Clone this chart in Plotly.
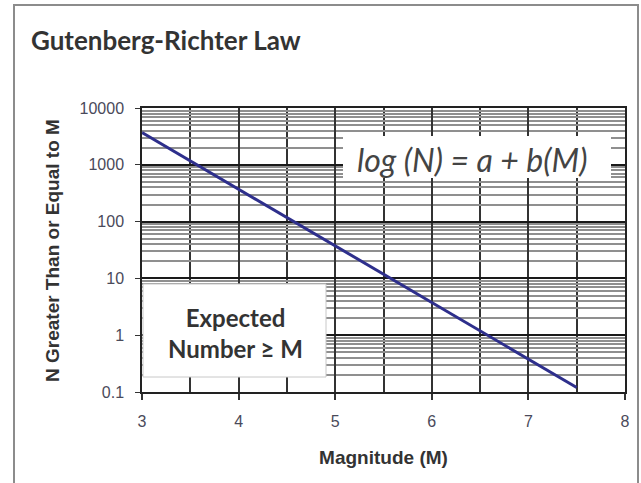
import plotly.graph_objects as go

magnitudes = [3.0, 4.0, 5.0, 6.0, 7.0, 7.5]
counts = [3700, 370, 37, 3.7, 0.37, 0.12]

y_tickvals = [0.1, 1, 10, 100, 1000, 10000]
y_ticktext = ["0.1", "1", "10", "100", "1000", "10000"]
x_tickvals = [3, 4, 5, 6, 7, 8]

W, H = 641, 483
L, R, T, B = 142, 16, 108, 91
pw, ph = W - L - R, H - T - B

def px(x):
    return (x - L) / pw

def py(y):
    return (H - B - y) / ph

fig = go.Figure()
fig.add_trace(go.Scatter(
    x=magnitudes, y=counts, mode="lines",
    line=dict(color="#2e2f8c", width=3), showlegend=False, hoverinfo="skip"))

fig.update_layout(
    width=W, height=H,
    margin=dict(l=L, r=R, t=T, b=B, pad=0),
    paper_bgcolor="white", plot_bgcolor="white",
    font=dict(family="Arial", size=12, color="#333"),
    showlegend=False,
    xaxis=dict(
        range=[3, 8], tickvals=x_tickvals,
        ticks="outside", ticklen=6, tickcolor="#333", tickwidth=1.5,
        ticklabelstandoff=8,
        showgrid=True, gridcolor="#333", gridwidth=1.5,
        minor=dict(dtick=0.5, tick0=3, showgrid=True, gridcolor="#333", gridwidth=1.5),
        showline=True, linecolor="#222", linewidth=1.5, mirror=True,
        zeroline=False,
        tickfont=dict(family="Arial", size=16, color="#4a4a5a"),
        title=dict(text="<b>Magnitude (M)</b>", standoff=22,
                   font=dict(family="Arial", size=19, color="#333")),
    ),
    yaxis=dict(
        type="log", range=[-1, 4], tickvals=y_tickvals, ticktext=y_ticktext,
        ticks="outside", ticklen=5, tickcolor="#333", tickwidth=1,
        ticklabelstandoff=8,
        showgrid=True, gridcolor="#1a1a1a", gridwidth=2,
        minor=dict(dtick="D1", showgrid=True, gridcolor="#8f8f8f", gridwidth=1.5),
        showline=True, linecolor="#222", linewidth=1.5, mirror=True,
        zeroline=False,
        tickfont=dict(family="Arial", size=16, color="#4a4a5a"),
    ),
)

# outer chart border
fig.add_shape(type="rect", xref="paper", yref="paper",
              x0=px(14), x1=px(638), y0=py(500), y1=py(5),
              line=dict(color="#8c8c8c", width=2), fillcolor="rgba(0,0,0,0)", layer="below")

# title
fig.add_annotation(xref="paper", yref="paper", x=px(29), y=py(40),
                   xanchor="left", yanchor="middle", showarrow=False,
                   text="<b>Gutenberg-Richter Law</b>",
                   font=dict(family="Lato", size=26, color="#333"))

# y axis title
fig.add_annotation(xref="paper", yref="paper", x=px(52), y=py(251),
                   xanchor="center", yanchor="middle", showarrow=False, textangle=-90,
                   text="<b>N Greater Than or Equal to M</b>",
                   font=dict(family="Arial", size=19, color="#333"))

# equation box
fig.add_shape(type="rect", xref="paper", yref="paper",
              x0=px(343), x1=px(611), y0=py(178), y1=py(136),
              line=dict(color="white", width=0), fillcolor="white", layer="above")
fig.add_annotation(xref="paper", yref="paper", x=px(472), y=py(159),
                   xanchor="center", yanchor="middle", showarrow=False,
                   text="<i>log (N) = a + b(M)</i>",
                   font=dict(family="Lato", size=32, color="#444"))

# expected number box
fig.add_shape(type="rect", xref="paper", yref="paper",
              x0=px(143), x1=px(326), y0=py(377), y1=py(284),
              line=dict(color="#c8c8c8", width=1), fillcolor="white", layer="above")
fig.add_annotation(xref="paper", yref="paper", x=px(235), y=py(333),
                   xanchor="center", yanchor="middle", showarrow=False,
                   text="<b>Expected<br>Number ≥ M</b>",
                   font=dict(family="Lato", size=24, color="#333"))

fig.write_html("out.html")
